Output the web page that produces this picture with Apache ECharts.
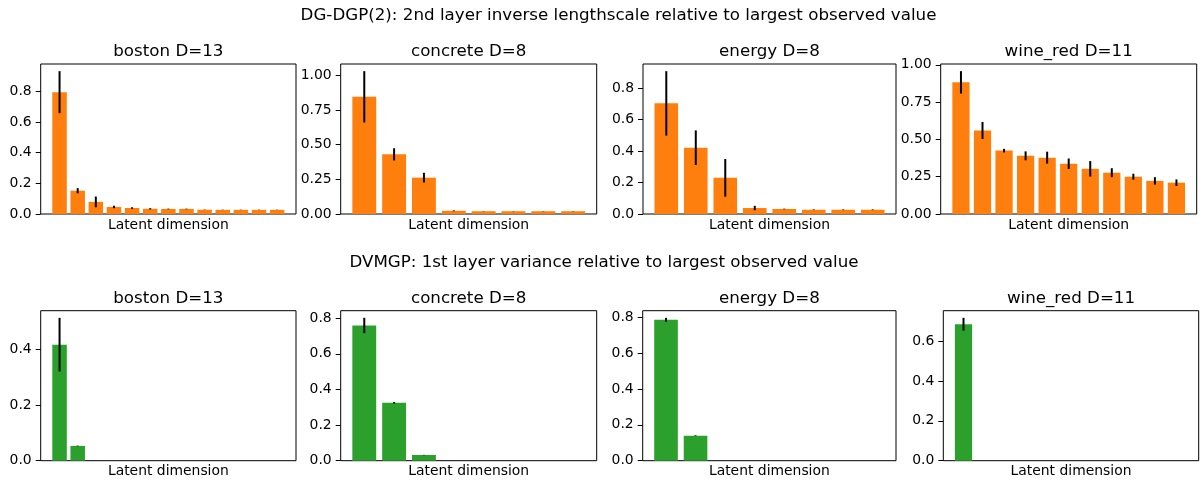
<!DOCTYPE html>
<html>
<head>
<meta charset="utf-8">
<title>Latent dimension relevance</title>
<script src="https://cdn.jsdelivr.net/npm/echarts@6/dist/echarts.min.js"></script>
<style>
  html, body { margin: 0; padding: 0; background: #fff; }
  #chart { width: 1202px; height: 482px; }
</style>
</head>
<body>
<div id="chart"></div>
<script>
// Datasets shown in each row, with their input dimension
const datasetNames = ['boston', 'concrete', 'energy', 'wine_red'];
const datasetDims = [13, 8, 8, 11];

// Row titles
const rowTitles = [
  'DG-DGP(2): 2nd layer inverse lengthscale relative to largest observed value',
  'DVMGP: 1st layer variance relative to largest observed value'
];
const xLabel = 'Latent dimension';

// DG-DGP(2) inverse lengthscales (mean, error) per latent dimension
const lsBostonMean   = [0.795, 0.152, 0.079, 0.046, 0.039, 0.034, 0.033, 0.033, 0.028, 0.027, 0.027, 0.027, 0.027];
const lsBostonErr    = [0.137, 0.017, 0.035, 0.008, 0.005, 0.004, 0.002, 0.002, 0.001, 0.001, 0.001, 0.001, 0.001];
const lsConcreteMean = [0.845, 0.430, 0.262, 0.023, 0.020, 0.020, 0.020, 0.020];
const lsConcreteErr  = [0.185, 0.044, 0.035, 0.003, 0.001, 0.001, 0.001, 0.001];
const lsEnergyMean   = [0.704, 0.422, 0.230, 0.038, 0.032, 0.027, 0.027, 0.027];
const lsEnergyErr    = [0.205, 0.110, 0.120, 0.014, 0.002, 0.002, 0.002, 0.002];
const lsWineMean     = [0.883, 0.560, 0.425, 0.390, 0.378, 0.337, 0.303, 0.277, 0.250, 0.222, 0.210];
const lsWineErr      = [0.075, 0.057, 0.012, 0.030, 0.040, 0.035, 0.052, 0.030, 0.020, 0.025, 0.022];

// DVMGP 1st layer variances (mean, error) per latent dimension
const varBostonMean   = [0.416, 0.053, 0, 0, 0, 0, 0, 0, 0, 0, 0, 0, 0];
const varBostonErr    = [0.096, 0.001, 0, 0, 0, 0, 0, 0, 0, 0, 0, 0, 0];
const varConcreteMean = [0.759, 0.325, 0.032, 0, 0, 0, 0, 0];
const varConcreteErr  = [0.043, 0.004, 0.001, 0, 0, 0, 0, 0];
const varEnergyMean   = [0.785, 0.139, 0, 0, 0, 0, 0, 0];
const varEnergyErr    = [0.011, 0.002, 0, 0, 0, 0, 0, 0];
const varWineMean     = [0.684, 0, 0, 0, 0, 0, 0, 0, 0, 0, 0];
const varWineErr      = [0.032, 0, 0, 0, 0, 0, 0, 0, 0, 0, 0];

// Y tick values and decimals per panel
const topTicks = [
  [0, 0.2, 0.4, 0.6, 0.8],
  [0, 0.25, 0.5, 0.75, 1.0],
  [0, 0.2, 0.4, 0.6, 0.8],
  [0, 0.25, 0.5, 0.75, 1.0]
];
const topDecimals = [1, 2, 1, 2];
const bottomTicks = [
  [0, 0.2, 0.4],
  [0, 0.2, 0.4, 0.6, 0.8],
  [0, 0.2, 0.4, 0.6, 0.8],
  [0, 0.2, 0.4, 0.6]
];
const bottomDecimals = [1, 1, 1, 1];

const ORANGE = '#ff7f0e';
const GREEN = '#2ca02c';
const FONT = 'DejaVu Sans';

// Plot areas (px)
const topRects = [
  { left: 40.7, top: 64, width: 255.3, height: 150 },
  { left: 340.7, top: 64, width: 256, height: 150 },
  { left: 643, top: 64, width: 253, height: 150 },
  { left: 940.7, top: 64, width: 256, height: 150 }
];
const bottomRects = [
  { left: 40.7, top: 310.7, width: 255.3, height: 150 },
  { left: 340.7, top: 310.7, width: 256, height: 150 },
  { left: 642.7, top: 310.7, width: 253.3, height: 150 },
  { left: 943.3, top: 310.7, width: 255.4, height: 150 }
];

const panels = [
  { rect: topRects[0], mean: lsBostonMean, err: lsBostonErr, color: ORANGE, ticks: topTicks[0], dec: topDecimals[0], name: datasetNames[0], dim: datasetDims[0] },
  { rect: topRects[1], mean: lsConcreteMean, err: lsConcreteErr, color: ORANGE, ticks: topTicks[1], dec: topDecimals[1], name: datasetNames[1], dim: datasetDims[1] },
  { rect: topRects[2], mean: lsEnergyMean, err: lsEnergyErr, color: ORANGE, ticks: topTicks[2], dec: topDecimals[2], name: datasetNames[2], dim: datasetDims[2] },
  { rect: topRects[3], mean: lsWineMean, err: lsWineErr, color: ORANGE, ticks: topTicks[3], dec: topDecimals[3], name: datasetNames[3], dim: datasetDims[3] },
  { rect: bottomRects[0], mean: varBostonMean, err: varBostonErr, color: GREEN, ticks: bottomTicks[0], dec: bottomDecimals[0], name: datasetNames[0], dim: datasetDims[0] },
  { rect: bottomRects[1], mean: varConcreteMean, err: varConcreteErr, color: GREEN, ticks: bottomTicks[1], dec: bottomDecimals[1], name: datasetNames[1], dim: datasetDims[1] },
  { rect: bottomRects[2], mean: varEnergyMean, err: varEnergyErr, color: GREEN, ticks: bottomTicks[2], dec: bottomDecimals[2], name: datasetNames[2], dim: datasetDims[2] },
  { rect: bottomRects[3], mean: varWineMean, err: varWineErr, color: GREEN, ticks: bottomTicks[3], dec: bottomDecimals[3], name: datasetNames[3], dim: datasetDims[3] }
];

const BAR_HALF = 0.4;

const grid = [], xAxis = [], yAxis = [], series = [], graphic = [];

panels.forEach((p, k) => {
  const n = p.mean.length;
  // auto limits with 5% margins, bars anchored at zero
  const xPad = 0.05 * (n - 1 + 2 * BAR_HALF);
  const yTop = Math.max(...p.mean.map((v, i) => v + p.err[i])) * 1.05;

  grid.push({
    left: p.rect.left, top: p.rect.top, width: p.rect.width, height: p.rect.height,
    show: true, borderColor: '#000', borderWidth: 1, backgroundColor: 'transparent'
  });
  xAxis.push({
    type: 'value', gridIndex: k, position: 'bottom',
    min: -BAR_HALF - xPad, max: n - 1 + BAR_HALF + xPad,
    axisLine: { show: false, onZero: false }, axisTick: { show: false },
    axisLabel: { show: false }, splitLine: { show: false }
  });
  yAxis.push({
    type: 'value', gridIndex: k, position: 'left', min: 0, max: yTop,
    axisLine: { show: false, onZero: false },
    splitLine: { show: false },
    axisTick: { show: true, length: 5, customValues: p.ticks, lineStyle: { color: '#000', width: 1 } },
    axisLabel: {
      show: true, customValues: p.ticks, margin: 9,
      fontFamily: FONT, fontSize: 13.9, color: '#000',
      formatter: v => Number(v).toFixed(p.dec)
    }
  });

  const data = p.mean.map((v, i) => [i, v, p.err[i]]);

  series.push({
    type: 'custom', xAxisIndex: k, yAxisIndex: k, data: data,
    silent: true, animation: false,
    renderItem: (params, api) => {
      const x = api.value(0), v = api.value(1);
      if (!v) return null;
      const a = api.coord([x - BAR_HALF, 0]);
      const b = api.coord([x + BAR_HALF, v]);
      return {
        type: 'rect',
        shape: { x: a[0], y: b[1], width: b[0] - a[0], height: a[1] - b[1] },
        style: { fill: p.color }
      };
    }
  });
  series.push({
    type: 'custom', xAxisIndex: k, yAxisIndex: k, data: data,
    silent: true, animation: false, z: 3,
    renderItem: (params, api) => {
      const x = api.value(0), v = api.value(1), e = api.value(2);
      if (!e) return null;
      const lo = api.coord([x, v - e]);
      const hi = api.coord([x, v + e]);
      return {
        type: 'line',
        shape: { x1: lo[0], y1: lo[1], x2: hi[0], y2: hi[1] },
        style: { stroke: '#000', lineWidth: 2 }
      };
    }
  });

  // panel title and x-axis label
  const cx = p.rect.left + p.rect.width / 2;
  graphic.push({
    type: 'text', x: cx, y: p.rect.top - 12.5,
    style: { text: p.name + ' D=' + p.dim, font: '16.7px "' + FONT + '"', fill: '#000', textAlign: 'center', textVerticalAlign: 'middle' }
  });
  graphic.push({
    type: 'text', x: cx, y: p.rect.top + p.rect.height + 11,
    style: { text: xLabel, font: '13.9px "' + FONT + '"', fill: '#000', textAlign: 'center', textVerticalAlign: 'middle' }
  });
});

// row titles
graphic.push({
  type: 'text', x: 618.5, y: 16,
  style: { text: rowTitles[0], font: '16.7px "' + FONT + '"', fill: '#000', textAlign: 'center', textVerticalAlign: 'middle' }
});
graphic.push({
  type: 'text', x: 604, y: 263,
  style: { text: rowTitles[1], font: '16.7px "' + FONT + '"', fill: '#000', textAlign: 'center', textVerticalAlign: 'middle' }
});

const chart = echarts.init(document.getElementById('chart'), null, { renderer: 'canvas' });
chart.setOption({
  animation: false,
  backgroundColor: '#fff',
  grid, xAxis, yAxis, series, graphic
});
</script>
</body>
</html>
